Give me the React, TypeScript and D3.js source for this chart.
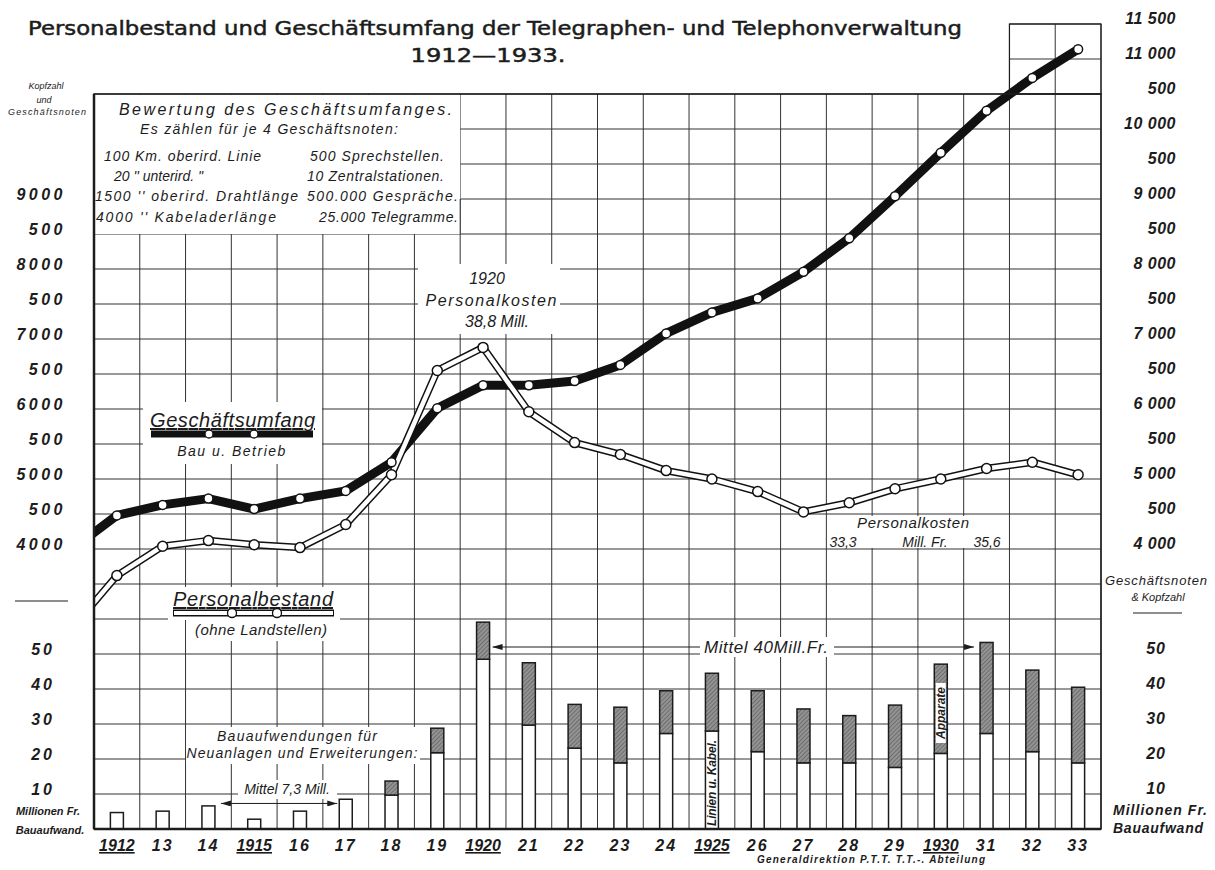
import React from "react";
import * as d3 from "d3";

const years = [1912, 1913, 1914, 1915, 1916, 1917, 1918, 1919, 1920, 1921, 1922, 1923, 1924, 1925, 1926, 1927, 1928, 1929, 1930, 1931, 1932, 1933];
const yearLabels = ["1912", "13", "14", "1915", "16", "17", "18", "19", "1920", "21", "22", "23", "24", "1925", "26", "27", "28", "29", "1930", "31", "32", "33"];

// Geschäftsnoten (Bau u. Betrieb)
const geschaeftsumfang = [4480, 4630, 4720, 4570, 4720, 4830, 5240, 6010, 6340, 6340, 6400, 6630, 7080, 7380, 7580, 7960, 8440, 9040, 9660, 10260, 10730, 11140];
// Kopfzahl (ohne Landstellen)
const personalbestand = [3620, 4040, 4120, 4060, 4020, 4350, 5060, 6550, 6880, 5960, 5520, 5350, 5120, 5000, 4820, 4530, 4660, 4860, 5000, 5150, 5240, 5060];
// 1911, only the lead-in at the left edge is visible
const geschaeft1911 = 3990;
const personal1911 = 2850;

// Bauaufwand, Mill. Fr.
const bauLinien = [4.7, 5.1, 6.6, 2.8, 5.1, 8.5, 9.7, 21.8, 48.5, 29.7, 23.1, 18.9, 27.3, 28.0, 22.1, 18.9, 18.9, 17.6, 21.6, 27.3, 22.1, 18.9];
const bauApparate = [0, 0, 0, 0, 0, 0, 4.0, 7.0, 10.6, 17.8, 12.5, 15.9, 12.2, 16.5, 17.4, 15.4, 13.5, 17.8, 25.5, 26.0, 23.3, 21.6];

const leftTicks = [9000, 8500, 8000, 7500, 7000, 6500, 6000, 5500, 5000, 4500, 4000];
const leftTickLabels = ["9000", "500", "8000", "500", "7000", "500", "6000", "500", "5000", "500", "4000"];
const rightTicks = [11500, 11000, 10500, 10000, 9500, 9000, 8500, 8000, 7500, 7000, 6500, 6000, 5500, 5000, 4500, 4000];
const rightTickLabels = ["11 500", "11 000", "500", "10 000", "500", "9 000", "500", "8 000", "500", "7 000", "500", "6 000", "500", "5 000", "500", "4 000"];
const barTicks = [50, 40, 30, 20, 10];

const W = 1215, H = 870;
const left = 94, right = 1101, top = 94, bottom = 829;
const ink = "#1c1c1c";
const font = "'Liberation Sans', Arial, sans-serif";

const App = () => {
    const xYear = d3.scaleLinear().domain([1911.5, 1933.5]).range([left, right]);
    const y = d3.scaleLinear().domain([0, 11500]).range([bottom, 24]);
    const yBar = d3.scaleLinear().domain([0, 230]).range([bottom, 24]);
    const bw = 13;

    const hGrid = d3.range(0, 11501, 500);
    const vGrid = d3.range(1911.5, 1934, 1);

    const lineGen = d3.line<[number, number]>()
        .x(d => xYear(d[0]))
        .y(d => y(d[1]));

    const gPts: [number, number][] = [[1911, geschaeft1911], ...years.map((yr, i) => [yr, geschaeftsumfang[i]] as [number, number])];
    const pPts: [number, number][] = [[1911, personal1911], ...years.map((yr, i) => [yr, personalbestand[i]] as [number, number])];

    const it = { fontFamily: font, fontStyle: "italic", fill: ink } as React.CSSProperties;

    return (
        <svg width={W} height={H} style={{ position: "absolute", left: 0, top: 0, background: "#fff" }}>
            <defs>
                <pattern id="hatch" width="3" height="3" patternUnits="userSpaceOnUse" patternTransform="rotate(45)">
                    <rect width="3" height="3" fill="#939393" />
                    <line x1="0" y1="0" x2="0" y2="3" stroke="#555" strokeWidth="1.2" />
                </pattern>
                <clipPath id="plotClip">
                    <rect x={left} y={0} width={right - left} height={bottom} />
                </clipPath>
                <marker id="arr" viewBox="0 0 10 6" refX="10" refY="3" markerWidth="10" markerHeight="6"
                    markerUnits="userSpaceOnUse" orient="auto-start-reverse">
                    <path d="M0,0 L10,3 L0,6 Z" fill={ink} />
                </marker>
            </defs>
            <rect width={W} height={H} fill="#fff" />

            {/* title */}
            <text x={495} y={35} textAnchor="middle" fontFamily="'DejaVu Sans', sans-serif" fontSize={20}
                textLength={934} lengthAdjust="spacingAndGlyphs" fill={ink} stroke={ink} strokeWidth={0.5}>
                Personalbestand und Geschäftsumfang der Telegraphen- und Telephonverwaltung
            </text>
            <text x={488} y={62} textAnchor="middle" fontFamily="'DejaVu Sans', sans-serif" fontSize={20}
                textLength={155} lengthAdjust="spacingAndGlyphs" fill={ink} stroke={ink} strokeWidth={0.5}>
                1912—1933.
            </text>

            {/* grid */}
            <g stroke="#333" strokeWidth={1}>
                {hGrid.map(v => (
                    <line key={"h" + v} x1={v > 10500 ? xYear(1931.5) : left} x2={right} y1={y(v)} y2={y(v)} />
                ))}
                {vGrid.map(v => (
                    <line key={"v" + v} x1={xYear(v)} x2={xYear(v)} y1={v >= 1931.5 ? y(11500) : top} y2={bottom} />
                ))}
            </g>

            {/* white areas behind the labels */}
            <g fill="#fff">
                <rect x={left + 1} y={top + 1} width={xYear(1919.5) - left - 1} height={y(8500) - top - 1} />
                <rect x={418} y={264} width={142} height={70} />
                <rect x={143} y={402} width={179} height={62} />
                <rect x={168} y={587} width={172} height={33} />
                <rect x={186} y={619} width={152} height={22} />
                <rect x={186} y={727} width={234} height={37} />
                <rect x={238} y={780} width={99} height={19} />
                <rect x={700} y={637} width={134} height={20} />
                <rect x={828} y={516} width={172} height={32} />
            </g>
            <line x1={xYear(1919.5)} x2={xYear(1919.5)} y1={y(9000)} y2={y(8500)} stroke="#333" />

            {/* Bauaufwand bars */}
            {years.map((yr, i) => {
                const cx = xYear(yr);
                const yL = yBar(bauLinien[i]);
                const yT = yBar(bauLinien[i] + bauApparate[i]);
                return (
                    <g key={"b" + yr} stroke={ink} strokeWidth={1.5}>
                        <rect x={cx - bw / 2} y={yL} width={bw} height={bottom - yL} fill="#fff" />
                        {bauApparate[i] > 0 && (
                            <rect x={cx - bw / 2} y={yT} width={bw} height={yL - yT} fill="url(#hatch)" />
                        )}
                    </g>
                );
            })}
            <rect x={xYear(1930) - 5} y={683} width={10} height={60} fill="#fff" />
            <text transform={`translate(${xYear(1930) + 4},713) rotate(-90)`} textAnchor="middle"
                style={{ ...it, fontWeight: "bold", fontSize: 12 }}>Apparate</text>
            <text transform={`translate(${xYear(1925) + 4},783) rotate(-90)`} textAnchor="middle"
                style={{ ...it, fontWeight: "bold", fontSize: 12 }} textLength={86}>Linien u. Kabel.</text>

            {/* Mittel arrows */}
            <line x1={xYear(1914) + bw / 2 + 6} x2={xYear(1917) - bw / 2 - 2} y1={yBar(7.3)} y2={yBar(7.3)}
                stroke={ink} strokeWidth={1} markerStart="url(#arr)" markerEnd="url(#arr)" />
            <text x={287} y={794} textAnchor="middle" style={{ ...it, fontSize: 14 }}>Mittel  7,3 Mill.</text>
            <line x1={xYear(1920) + bw / 2 + 3} x2={700} y1={647} y2={647} stroke={ink} strokeWidth={1} markerStart="url(#arr)" />
            <line x1={834} x2={xYear(1931) - bw / 2 - 6} y1={647} y2={647} stroke={ink} strokeWidth={1} markerEnd="url(#arr)" />
            <text x={766} y={653} textAnchor="middle" style={{ ...it, fontSize: 17 }} textLength={124}>Mittel  40Mill.Fr.</text>

            <text x={297} y={741} textAnchor="middle" style={{ ...it, fontSize: 14 }} textLength={160}>Bauaufwendungen für</text>
            <text x={302} y={758} textAnchor="middle" style={{ ...it, fontSize: 14 }} textLength={231}>Neuanlagen und Erweiterungen:</text>

            {/* lines */}
            <g clipPath="url(#plotClip)">
                <path d={lineGen(gPts) || ""} fill="none" stroke="#111" strokeWidth={9} strokeLinejoin="round" />
                <path d={lineGen(pPts) || ""} fill="none" stroke="#111" strokeWidth={7.5} strokeLinejoin="round" />
                <path d={lineGen(pPts) || ""} fill="none" stroke="#fff" strokeWidth={4.5} strokeLinejoin="round" />
            </g>
            {years.map((yr, i) => (
                <circle key={"gc" + yr} cx={xYear(yr)} cy={y(geschaeftsumfang[i])} r={4.5} fill="#fff" stroke="#111" strokeWidth={1.5} />
            ))}
            {years.map((yr, i) => (
                <circle key={"pc" + yr} cx={xYear(yr)} cy={y(personalbestand[i])} r={5} fill="#fff" stroke="#111" strokeWidth={1.5} />
            ))}

            {/* plot frame */}
            <g fill="none" stroke={ink}>
                <rect x={left} y={top} width={right - left} height={bottom - top} strokeWidth={1.5} />
                <rect x={xYear(1931.5)} y={y(11500)} width={right - xYear(1931.5)} height={top - y(11500)} strokeWidth={1.2} />
                <line x1={left} x2={left} y1={top} y2={bottom} strokeWidth={2.5} />
                <line x1={left} x2={right} y1={bottom} y2={bottom} strokeWidth={2.5} />
            </g>

            {/* Bewertung box */}
            <g style={{ ...it, fontSize: 14 }}>
                <text x={119} y={115} style={{ fontSize: 16 }} textLength={333}>Bewertung  des  Geschäftsumfanges.</text>
                <text x={140} y={134} textLength={258}>Es zählen für je 4 Geschäftsnoten:</text>
                <text x={104} y={161} textLength={157}>100 Km. oberird. Linie</text>
                <text x={114} y={181}>20  ''   unterird.   ''</text>
                <text x={95} y={201} textLength={203}>1500 ''  oberird. Drahtlänge</text>
                <text x={96} y={222} textLength={180}>4000 ''  Kabeladerlänge</text>
                <text x={310} y={161} textLength={134}>500 Sprechstellen.</text>
                <text x={307} y={181} textLength={137}>10 Zentralstationen.</text>
                <text x={307} y={201} textLength={151}>500.000 Gespräche.</text>
                <text x={319} y={222} textLength={139}>25.000 Telegramme.</text>
            </g>

            {/* annotations */}
            <g style={{ ...it, fontSize: 16 }} textAnchor="middle">
                <text x={487} y={284}>1920</text>
                <text x={491} y={306} textLength={131}>Personalkosten</text>
                <text x={497} y={327}>38,8 Mill.</text>
            </g>
            <g style={{ ...it, fontSize: 15 }}>
                <text x={913} y={528} textAnchor="middle" textLength={112}>Personalkosten</text>
                <text x={843} y={547} textAnchor="middle" style={{ fontSize: 14 }}>33,3</text>
                <text x={925} y={547} textAnchor="middle" style={{ fontSize: 14 }}>Mill. Fr.</text>
                <text x={987} y={547} textAnchor="middle" style={{ fontSize: 14 }}>35,6</text>
            </g>

            {/* legends */}
            <text x={150} y={427} style={{ ...it, fontSize: 20, textDecoration: "underline" }} textLength={165}>Geschäftsumfang</text>
            <line x1={151} x2={313} y1={434} y2={434} stroke="#111" strokeWidth={7} />
            <circle cx={209} cy={434} r={4} fill="#fff" stroke="#111" strokeWidth={1.3} />
            <circle cx={254} cy={434} r={4} fill="#fff" stroke="#111" strokeWidth={1.3} />
            <text x={232} y={456} textAnchor="middle" style={{ ...it, fontSize: 14, letterSpacing: 1.5 }}>Bau u. Betrieb</text>

            <text x={173} y={606} style={{ ...it, fontSize: 20, textDecoration: "underline" }} textLength={160}>Personalbestand</text>
            <line x1={173} x2={334} y1={613} y2={613} stroke="#111" strokeWidth={7} />
            <line x1={174} x2={333} y1={613} y2={613} stroke="#fff" strokeWidth={4} />
            <circle cx={232} cy={613} r={4.5} fill="#fff" stroke="#111" strokeWidth={1.3} />
            <circle cx={277} cy={613} r={4.5} fill="#fff" stroke="#111" strokeWidth={1.3} />
            <text x={261} y={635} textAnchor="middle" style={{ ...it, fontSize: 15 }} textLength={132}>(ohne Landstellen)</text>

            {/* left axis */}
            <g style={{ ...it, fontSize: 9 }} textAnchor="middle">
                <text x={46} y={89}>Kopfzahl</text>
                <text x={44} y={103}>und</text>
                <text x={47} y={115} textLength={78}>Geschäftsnoten</text>
            </g>
            {leftTicks.map((v, i) => (
                <text key={"lt" + v} x={66} y={y(v) + 1} textAnchor="end"
                    style={{ ...it, fontWeight: "bold", fontSize: 16, letterSpacing: 3.5 }}>{leftTickLabels[i]}</text>
            ))}
            <line x1={15} x2={68} y1={601} y2={601} stroke={ink} strokeWidth={1.2} />
            {barTicks.map(v => (
                <text key={"lb" + v} x={55} y={yBar(v) + 1} textAnchor="end"
                    style={{ ...it, fontWeight: "bold", fontSize: 16, letterSpacing: 3 }}>{v}</text>
            ))}
            <text x={48} y={815} textAnchor="middle" style={{ ...it, fontWeight: "bold", fontSize: 11 }}>Millionen Fr.</text>
            <text x={50} y={834} textAnchor="middle" style={{ ...it, fontWeight: "bold", fontSize: 11 }}>Bauaufwand.</text>

            {/* right axis */}
            {rightTicks.map((v, i) => (
                <text key={"rt" + v} x={1176} y={y(v)} textAnchor="end"
                    style={{ ...it, fontWeight: "bold", fontSize: 16, letterSpacing: 0.5 }}>{rightTickLabels[i]}</text>
            ))}
            <text x={1156} y={585} textAnchor="middle" style={{ ...it, fontSize: 13 }} textLength={102}>Geschäftsnoten</text>
            <text x={1158} y={601} textAnchor="middle" style={{ ...it, fontSize: 11 }}>&amp;  Kopfzahl</text>
            <line x1={1133} x2={1182} y1={613} y2={613} stroke={ink} strokeWidth={1} />
            {barTicks.map(v => (
                <text key={"rb" + v} x={1166} y={yBar(v)} textAnchor="end"
                    style={{ ...it, fontWeight: "bold", fontSize: 16, letterSpacing: 1 }}>{v}</text>
            ))}
            <text x={1160} y={815} textAnchor="middle" style={{ ...it, fontWeight: "bold", fontSize: 14 }} textLength={94}>Millionen Fr.</text>
            <text x={1158} y={833} textAnchor="middle" style={{ ...it, fontWeight: "bold", fontSize: 14 }} textLength={90}>Bauaufwand</text>

            {/* x axis */}
            {years.map((yr, i) => (
                <text key={"x" + yr} x={xYear(yr)} y={851} textAnchor="middle"
                    style={{ ...it, fontWeight: "bold", fontSize: 16, letterSpacing: yearLabels[i].length === 2 ? 2 : 0, textDecoration: yearLabels[i].length === 4 ? "underline" : "none" }}>
                    {yearLabels[i]}
                </text>
            ))}
            <text x={871} y={863} textAnchor="middle" style={{ ...it, fontWeight: "bold", fontSize: 10 }} textLength={228}>
                Generaldirektion  P.T.T.    T.T.-. Abteilung
            </text>
        </svg>
    );
};

export default App;
